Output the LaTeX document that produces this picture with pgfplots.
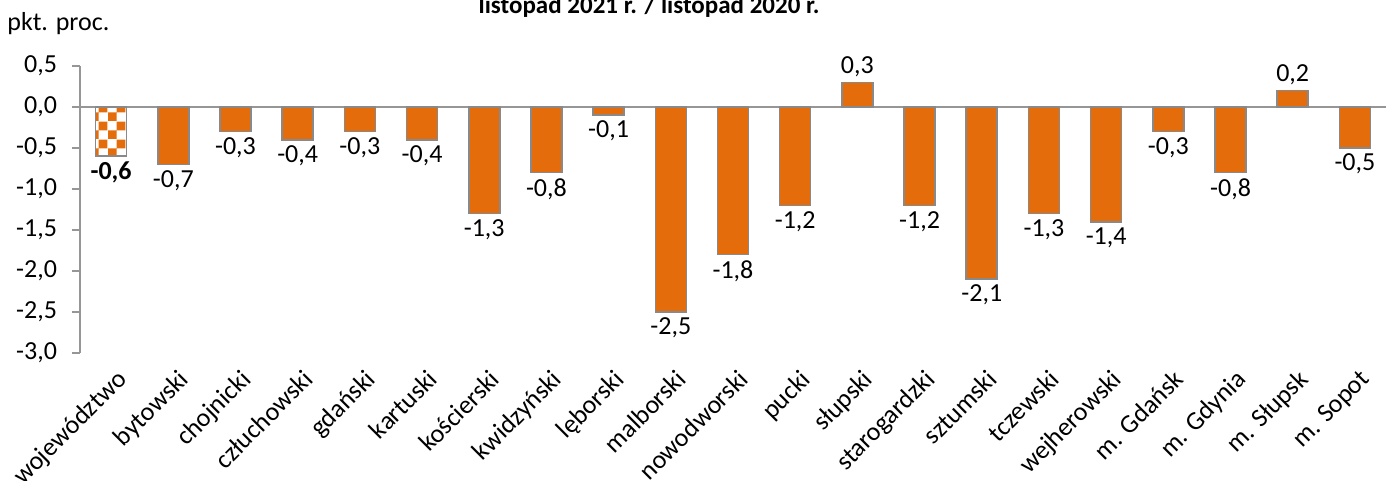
\documentclass[border=0pt]{standalone}
\usepackage{fontspec}
\setmainfont{Carlito}
\usepackage{pgfplots}
\pgfplotsset{compat=1.18}
\usetikzlibrary{patterns.meta}
\definecolor{orangeC}{RGB}{228,108,10}
\definecolor{borderC}{RGB}{137,137,137}
\definecolor{axisC}{RGB}{150,150,150}
\pgfdeclarepattern{
  name=mychecker,
  type=uncolored,
  bottom left={\pgfpoint{0pt}{0pt}},
  top right={\pgfpoint{9pt}{9pt}},
  tile size={\pgfpoint{9pt}{9pt}},
  code={
    \pgfpathrectangle{\pgfpointorigin}{\pgfpoint{4.5pt}{4.5pt}}
    \pgfpathrectangle{\pgfpoint{4.5pt}{4.5pt}}{\pgfpoint{4.5pt}{4.5pt}}
    \pgfusepath{fill}
  }
}
\newcommand{\fs}{\fontsize{13}{15.6}\selectfont}
\begin{document}
\begin{tikzpicture}
\useasboundingbox (-40pt,-64pt) rectangle (653pt,176.5pt);
\begin{axis}[
  at={(0,0)}, anchor=south west,
  scale only axis,
  width=653pt, height=143.5pt,
  xmin=-0.5, xmax=20.5,
  ymin=-3, ymax=0.5,
  ytick={-3,-2.5,...,0.5},
  xtick={0,...,20},
  xticklabels={województwo,bytowski,chojnicki,człuchowski,gdański,kartuski,kościerski,kwidzyński,lęborski,malborski,nowodworski,pucki,słupski,starogardzki,sztumski,tczewski,wejherowski,m. Gdańsk,m. Gdynia,m. Słupsk,m. Sopot},
  axis y line*=left,
  axis x line*=bottom,
  x axis line style={draw=none},
  major x tick style={draw=none},
  y axis line style={axisC, line width=0.8pt},
  major y tick style={axisC, line width=0.8pt},
  tick align=outside,
  major tick length=4pt,
  /pgf/number format/assume math mode=true,
  /pgf/number format/use comma,
  /pgf/number format/fixed,
  /pgf/number format/fixed zerofill,
  /pgf/number format/precision=1,
  yticklabel style={font=\fs, xshift=-4pt},
  xticklabel style={font=\fs, xshift=2pt, yshift=-2pt, rotate=45, anchor=north east, inner sep=1pt},
  ybar, bar width=15.5pt, bar shift=0pt,
  nodes near coords,
  nodes near coords style={font=\fs, inner sep=2.5pt, /pgf/number format/assume math mode=true, /pgf/number format/use comma, /pgf/number format/fixed, /pgf/number format/fixed zerofill, /pgf/number format/precision=1},
  clip=false,
]
\draw[axisC, line width=0.8pt] (axis cs:-0.5,0) -- (axis cs:20.5,0);
\addplot[fill=white, draw=borderC, line width=0.8pt, postaction={pattern=mychecker, pattern color=orangeC}, nodes near coords style={font=\fs\bfseries}] coordinates {(0,-0.6)};
\addplot[fill=orangeC, draw=borderC, line width=0.8pt] coordinates {
(1,-0.7) (2,-0.3) (3,-0.4) (4,-0.3) (5,-0.4) (6,-1.3) (7,-0.8) (8,-0.1) (9,-2.5) (10,-1.8)
(11,-1.2) (12,0.3) (13,-1.2) (14,-2.1) (15,-1.3) (16,-1.4) (17,-0.3) (18,-0.8) (19,0.2) (20,-0.5)};
\end{axis}
\node[anchor=base, font=\fontsize{12.5}{15}\selectfont\bfseries] at (284.5pt,169.5pt) {listopad 2021 r. / listopad 2020 r.};
\node[anchor=base west, font=\fs, inner sep=0pt] at (-36.5pt,161pt) {pkt. proc.};
\end{tikzpicture}
\end{document}
